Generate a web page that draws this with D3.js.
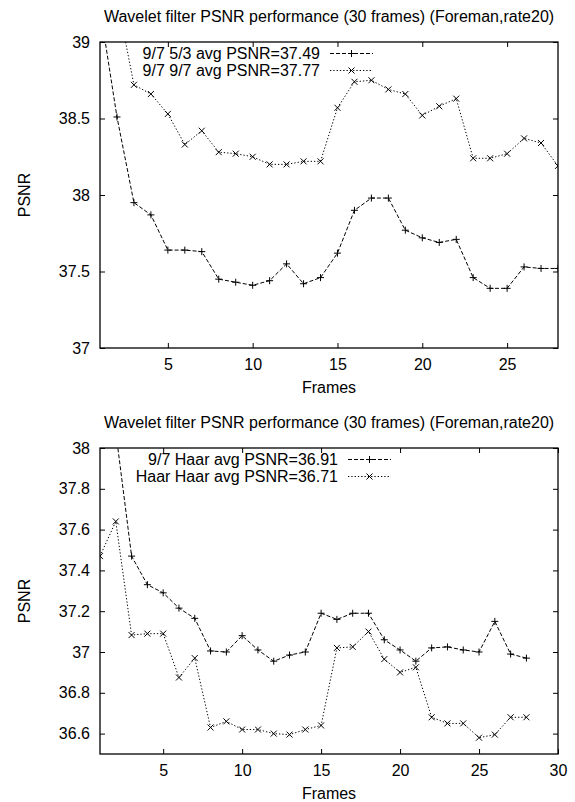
<!DOCTYPE html>
<html>
<head>
<meta charset="utf-8">
<script src="https://cdn.jsdelivr.net/npm/d3@7"></script>
<style>
  body { margin: 0; background: #fff; }
  svg text { font-family: "Liberation Sans", Arial, Helvetica, sans-serif; font-size: 16px; fill: #000; }
</style>
</head>
<body>
<svg id="chart" width="575" height="802"></svg>
<script>
// frame numbers shown on both plots
const frames = [1, 2, 3, 4, 5, 6, 7, 8, 9, 10, 11, 12, 13, 14,
                15, 16, 17, 18, 19, 20, 21, 22, 23, 24, 25, 26, 27, 28];

// top plot: 9/7 vs 5/3 and 9/7 vs 9/7
const psnr97_53 = [39.22, 38.51, 37.95, 37.87, 37.64, 37.64, 37.63, 37.45, 37.43, 37.41,
                   37.44, 37.55, 37.42, 37.46, 37.62, 37.90, 37.98, 37.98, 37.77, 37.72,
                   37.69, 37.71, 37.46, 37.39, 37.39, 37.53, 37.52, 37.52];
const psnr97_97 = [39.60, 39.29, 38.72, 38.66, 38.53, 38.33, 38.42, 38.28, 38.27, 38.25,
                   38.20, 38.20, 38.22, 38.22, 38.57, 38.74, 38.75, 38.69, 38.66, 38.52,
                   38.58, 38.63, 38.24, 38.24, 38.27, 38.37, 38.34, 38.19];

// bottom plot: 9/7 vs Haar and Haar vs Haar
const psnr97_haar = [38.40, 38.08, 37.47, 37.33, 37.29, 37.215, 37.165, 37.005, 37.00, 37.08,
                     37.01, 36.955, 36.985, 37.00, 37.19, 37.16, 37.19, 37.19, 37.06, 37.01,
                     36.955, 37.02, 37.025, 37.01, 37.00, 37.15, 36.99, 36.97];
const psnrHaar_haar = [37.47, 37.64, 37.083, 37.09, 37.09, 36.875, 36.97, 36.63, 36.66, 36.62,
                       36.62, 36.60, 36.595, 36.62, 36.64, 37.02, 37.025, 37.10, 36.965, 36.90,
                       36.925, 36.68, 36.65, 36.65, 36.58, 36.595, 36.68, 36.68];

const topXTicks = [5, 10, 15, 20, 25];
const topYTicks = [37, 37.5, 38, 38.5, 39];
const bottomXTicks = [5, 10, 15, 20, 25, 30];
const bottomYTicks = [36.6, 36.8, 37, 37.2, 37.4, 37.6, 37.8, 38];

const titleText = "Wavelet filter PSNR performance (30 frames) (Foreman,rate20)";
const topLegend = ["9/7 5/3 avg PSNR=37.49", "9/7 9/7 avg PSNR=37.77"];
const bottomLegend = ["9/7 Haar avg PSNR=36.91", "Haar Haar avg PSNR=36.71"];

const svg = d3.select("#chart");

const plus = "M-3.5,0H3.5M0,-3.5V3.5";
const cross = "M-3,-3L3,3M-3,3L3,-3";
const dashes = ["4,2", "1.3,2"];

function drawPlot(opt) {
    const left = 100, right = 558;
    const top = opt.top, bottom = opt.top + 306;

    const x = d3.scaleLinear().domain(opt.xDomain).range([left, right]);
    const y = d3.scaleLinear().domain(opt.yDomain).range([bottom, top]);

    const g = svg.append("g");

    const clipId = "clip" + opt.top;
    g.append("clipPath").attr("id", clipId)
        .append("rect").attr("x", left).attr("y", top)
        .attr("width", right - left).attr("height", bottom - top);

    // axes, ticks point inward on all four sides
    const fmt = d => String(d);
    g.append("g").attr("transform", "translate(" + left + ",0)")
        .call(d3.axisLeft(y).tickValues(opt.yTicks).tickFormat(fmt).tickSize(-5).tickPadding(10));
    g.append("g").attr("transform", "translate(" + right + ",0)")
        .call(d3.axisRight(y).tickValues(opt.yTicks).tickFormat("").tickSize(-5));
    g.append("g").attr("transform", "translate(0," + bottom + ")")
        .call(d3.axisBottom(x).tickValues(opt.xTicks).tickFormat(fmt).tickSize(-5).tickPadding(10.5));
    g.append("g").attr("transform", "translate(0," + top + ")")
        .call(d3.axisTop(x).tickValues(opt.xTicks).tickFormat("").tickSize(-5));

    g.selectAll(".domain").remove();
    g.selectAll(".tick line").attr("stroke", "#000");
    g.selectAll(".tick text").attr("font-size", 16)
        .attr("font-family", '"Liberation Sans", Arial, sans-serif');

    g.append("rect")
        .attr("x", left).attr("y", top)
        .attr("width", right - left).attr("height", bottom - top)
        .attr("fill", "none").attr("stroke", "#000").attr("stroke-width", 1.3);

    // titles
    g.append("text").attr("x", (left + right) / 2).attr("y", top - 20)
        .attr("text-anchor", "middle").text(titleText);
    g.append("text").attr("x", (left + right) / 2).attr("y", bottom + 45)
        .attr("text-anchor", "middle").text("Frames");
    g.append("text")
        .attr("transform", "translate(30," + (top + bottom) / 2 + ") rotate(-90)")
        .attr("text-anchor", "middle").text("PSNR");

    const line = d3.line().x((d, i) => x(frames[i])).y(d => y(d));
    const plot = g.append("g").attr("clip-path", "url(#" + clipId + ")");

    opt.series.forEach((s, k) => {
        plot.append("path").datum(s)
            .attr("d", line)
            .attr("fill", "none").attr("stroke", "#000").attr("stroke-width", 1)
            .attr("stroke-dasharray", dashes[k]);
        plot.selectAll(".m" + k).data(s).enter().append("path")
            .attr("class", "m" + k)
            .attr("transform", (d, i) => "translate(" + x(frames[i]) + "," + y(d) + ")")
            .attr("d", k === 0 ? plus : cross)
            .attr("fill", "none").attr("stroke", "#000").attr("stroke-width", 1);
    });

    // key
    opt.legend.forEach((t, k) => {
        const ly = top + 11.5 + k * 17;
        g.append("text").attr("x", opt.keyX).attr("y", ly).attr("dy", "0.35em")
            .attr("text-anchor", "end").text(t);
        g.append("line")
            .attr("x1", opt.keyX + 10).attr("x2", opt.keyX + 53)
            .attr("y1", ly).attr("y2", ly)
            .attr("stroke", "#000").attr("stroke-width", 1)
            .attr("stroke-dasharray", dashes[k]);
        g.append("path")
            .attr("transform", "translate(" + (opt.keyX + 31.5) + "," + ly + ")")
            .attr("d", k === 0 ? plus : cross)
            .attr("fill", "none").attr("stroke", "#000").attr("stroke-width", 1);
    });
}

drawPlot({
    top: 42, xDomain: [1, 28], yDomain: [37, 39],
    xTicks: topXTicks, yTicks: topYTicks,
    series: [psnr97_53, psnr97_97], legend: topLegend, keyX: 320
});

drawPlot({
    top: 448, xDomain: [1, 30], yDomain: [36.5, 38],
    xTicks: bottomXTicks, yTicks: bottomYTicks,
    series: [psnr97_haar, psnrHaar_haar], legend: bottomLegend, keyX: 338
});
</script>
</body>
</html>
